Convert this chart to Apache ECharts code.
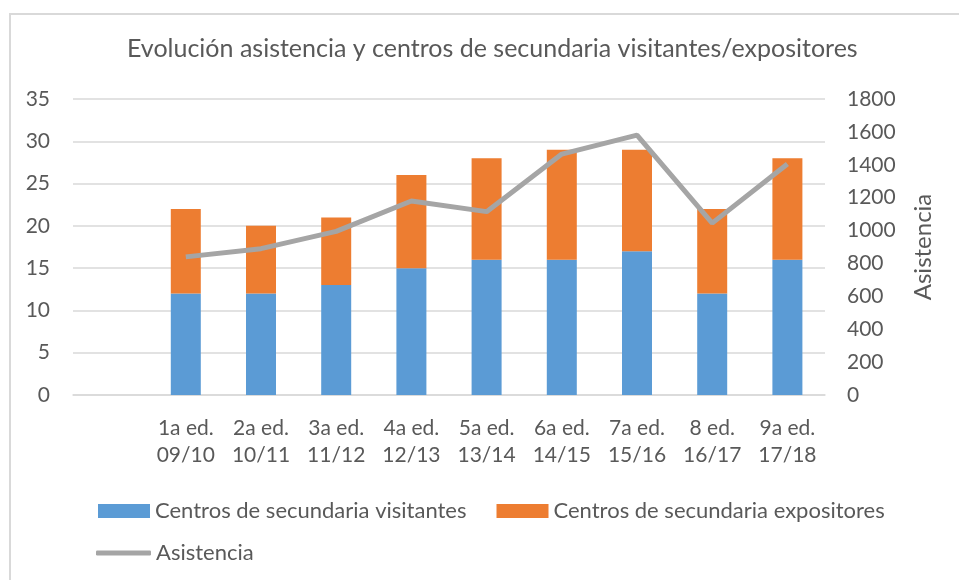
<!DOCTYPE html>
<html>
<head>
<meta charset="utf-8">
<script src="https://cdn.jsdelivr.net/npm/echarts@6/dist/echarts.min.js"></script>
<style>
  html, body { margin: 0; padding: 0; background: #fff; }
  #frame { position: absolute; left: 9px; top: 13px; width: 1000px; height: 700px;
           border-left: 2px solid #d9d9d9; border-top: 2px solid #d9d9d9; }
  #chart { position: absolute; left: 0; top: 0; width: 959px; height: 580px; }
</style>
</head>
<body>
<div id="frame"></div>
<div id="chart"></div>
<script>
// categorias (la primera esta vacia en el original)
const categories = ['', '1a ed.\n09/10', '2a ed.\n10/11', '3a ed.\n11/12', '4a ed.\n12/13',
  '5a ed.\n13/14', '6a ed.\n14/15', '7a ed.\n15/16', '8 ed.\n16/17', '9a ed.\n17/18']
const visitantes = [null, 12, 12, 13, 15, 16, 16, 17, 12, 16]
const expositores = [null, 10, 8, 8, 11, 12, 13, 12, 10, 12]
const asistencia = [null, 840, 890, 995, 1180, 1115, 1465, 1580, 1045, 1405]

const font = 'Lato'
const txt = '#595959'

const chart = echarts.init(document.getElementById('chart'))
const option = {
  textStyle: { fontFamily: font },
  title: {
    text: 'Evolución asistencia y centros de secundaria visitantes/expositores',
    left: 122,
    top: 31,
    textStyle: { fontFamily: font, fontSize: 25, fontWeight: 'normal', color: txt }
  },
  legend: [
    {
      data: ['Centros de secundaria visitantes', 'Centros de secundaria expositores'],
      left: 93, top: 495,
      itemWidth: 52, itemHeight: 14, itemGap: 30,
      icon: 'rect',
      textStyle: { fontFamily: font, fontSize: 22, color: txt }
    },
    {
      data: [{ name: 'Asistencia', icon: 'roundRect' }],
      left: 91, top: 537,
      itemWidth: 55, itemHeight: 5,
      textStyle: { fontFamily: font, fontSize: 22, color: txt }
    }
  ],
  grid: { left: 73, right: 134, top: 99, bottom: 185 },
  xAxis: {
    type: 'category',
    data: categories,
    axisTick: { show: false },
    axisLine: { lineStyle: { color: '#d9d9d9', width: 1.5 } },
    axisLabel: { color: txt, fontSize: 21, lineHeight: 27, margin: 20, interval: 0 }
  },
  yAxis: [
    {
      type: 'value', min: 0, max: 35, interval: 5,
      axisLabel: { color: txt, fontSize: 21, margin: 23 },
      splitLine: { lineStyle: { color: '#d9d9d9', width: 1.5 } },
      axisLine: { show: false }
    },
    {
      type: 'value', min: 0, max: 1800, interval: 200,
      name: 'Asistencia',
      nameLocation: 'middle',
      nameRotate: 90,
      nameGap: 86,
      nameTextStyle: { color: txt, fontSize: 24, fontFamily: font },
      axisLabel: { color: txt, fontSize: 21, margin: 22, formatter: v => String(v) },
      splitLine: { show: false },
      axisLine: { show: false }
    }
  ],
  series: [
    {
      name: 'Centros de secundaria visitantes',
      type: 'bar', stack: 'centros', barWidth: 30,
      itemStyle: { color: '#5b9bd5' },
      data: visitantes
    },
    {
      name: 'Centros de secundaria expositores',
      type: 'bar', stack: 'centros', barWidth: 30,
      itemStyle: { color: '#ed7d31' },
      data: expositores
    },
    {
      name: 'Asistencia',
      type: 'line', yAxisIndex: 1,
      showSymbol: false, symbol: 'none',
      lineStyle: { color: '#a5a5a5', width: 5 },
      itemStyle: { color: '#a5a5a5' },
      data: asistencia
    }
  ]
}
chart.setOption(option)
</script>
</body>
</html>
